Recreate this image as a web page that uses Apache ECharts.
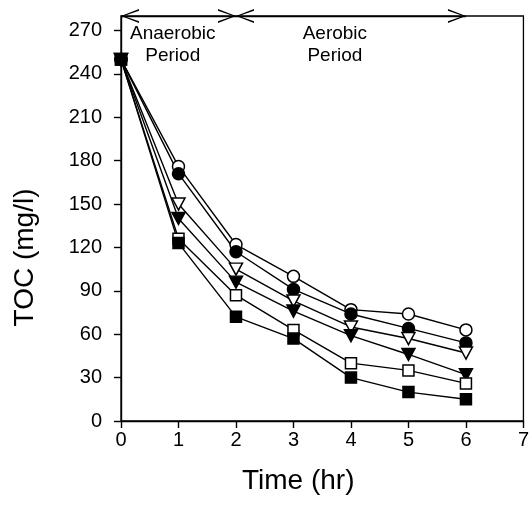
<!DOCTYPE html>
<html>
<head>
<meta charset="utf-8">
<script src="https://cdn.jsdelivr.net/npm/echarts@6/dist/echarts.min.js"></script>
<style>
  html, body { margin: 0; padding: 0; background: #fff; }
  #toc { width: 532px; height: 505px; }
</style>
</head>
<body>
<div id="toc"></div>
<script>
var hours = [0, 1, 2, 3, 4, 5, 6];
var yTicks = [0, 30, 60, 90, 120, 150, 180, 210, 240, 270];

// TOC (mg/l) readings, one array per marker type
var openCircle   = [250, 176, 122, 100, 77, 74, 63];
var filledCircle = [250, 171, 117, 91, 74, 64, 54];
var openTri      = [250, 150, 105, 83, 65, 57, 47];
var filledTri    = [250, 140, 96, 76, 59, 46, 32];
var openSquare   = [250, 126, 87, 63, 40, 35, 26];
var filledSquare = [250, 123, 72, 57, 30, 20, 15];

var font = 'Liberation Sans, Arial, Helvetica, sans-serif';
var chevron = 'path://M5,0 L10,16 L8.8,16 L5,2.6 L1.2,16 L0,16 Z';

var tocChart = echarts.init(document.getElementById('toc'));

function pairs(vals) {
    return vals.map(function (v, i) { return [hours[i], v]; });
}

function mkSeries(name, vals, symbol, size, filled, rotate) {
    return {
        name: name,
        type: 'line',
        data: pairs(vals),
        symbol: symbol,
        symbolSize: size,
        symbolRotate: rotate || 0,
        showAllSymbol: true,
        lineStyle: { color: '#000', width: 1.4 },
        itemStyle: {
            color: filled ? '#000' : '#fff',
            borderColor: '#000',
            borderWidth: 1.5
        },
        emphasis: { disabled: true },
        animation: false
    };
}

var series = [
    mkSeries('open circle', openCircle, 'circle', 12, false),
    mkSeries('filled circle', filledCircle, 'circle', 12, true),
    mkSeries('open triangle', openTri, 'triangle', [13, 12], false, 180),
    mkSeries('filled triangle', filledTri, 'triangle', [13, 12], true, 180),
    mkSeries('open square', openSquare, 'rect', 11, false),
    mkSeries('filled square', filledSquare, 'rect', 11, true)
];

// period arrows along the top frame + labels
series[0].markLine = {
    silent: true,
    symbol: [chevron, chevron],
    symbolSize: [14, 18],
    symbolOffset: [[0, 9], [0, 9]],
    label: { show: false },
    lineStyle: { color: '#000', width: 1.3, type: 'solid' },
    data: [
        [{ coord: [0, 280] }, { coord: [2, 280] }],
        [{ coord: [2, 280] }, { coord: [6, 280] }]
    ]
};
series[0].markPoint = {
    silent: true,
    symbol: 'circle',
    symbolSize: 0,
    label: {
        show: true,
        position: 'inside',
        formatter: '{b}',
        color: '#000',
        fontFamily: font,
        fontSize: 19,
        lineHeight: 22
    },
    data: [
        { name: 'Anaerobic\nPeriod', coord: [0.9, 260] },
        { name: 'Aerobic\nPeriod', coord: [3.72, 260] }
    ]
};

var tocOption = {
    animation: false,
    backgroundColor: '#fff',
    grid: {
        left: 121,
        right: 4,
        top: 16,
        bottom: 84,
        show: true,
        borderColor: '#000',
        borderWidth: 1.3,
        containLabel: false
    },
    xAxis: {
        type: 'value',
        min: 0,
        max: 7,
        interval: 1,
        name: 'Time (hr)',
        nameLocation: 'middle',
        nameGap: 46,
        nameTextStyle: { color: '#000', fontFamily: font, fontSize: 28, padding: [0, 48, 0, 0] },
        axisLine: { show: true, lineStyle: { color: '#000', width: 1.4 } },
        axisTick: { show: true, inside: false, length: 7, lineStyle: { color: '#000', width: 1.4 } },
        axisLabel: { color: '#000', fontFamily: font, fontSize: 20, margin: 9 },
        splitLine: { show: false }
    },
    yAxis: {
        type: 'value',
        min: 0,
        max: 280,
        name: 'TOC (mg/l)',
        nameLocation: 'middle',
        nameGap: 82,
        nameRotate: 90,
        nameTextStyle: { color: '#000', fontFamily: font, fontSize: 28, padding: [0, 78, 0, 0] },
        axisLine: { show: true, lineStyle: { color: '#000', width: 1.4 } },
        axisTick: { show: true, inside: false, length: 7, customValues: yTicks, lineStyle: { color: '#000', width: 1.4 } },
        axisLabel: { color: '#000', fontFamily: font, fontSize: 20, margin: 19, customValues: yTicks },
        splitLine: { show: false }
    },
    series: series
};

tocChart.setOption(tocOption);
</script>
</body>
</html>
